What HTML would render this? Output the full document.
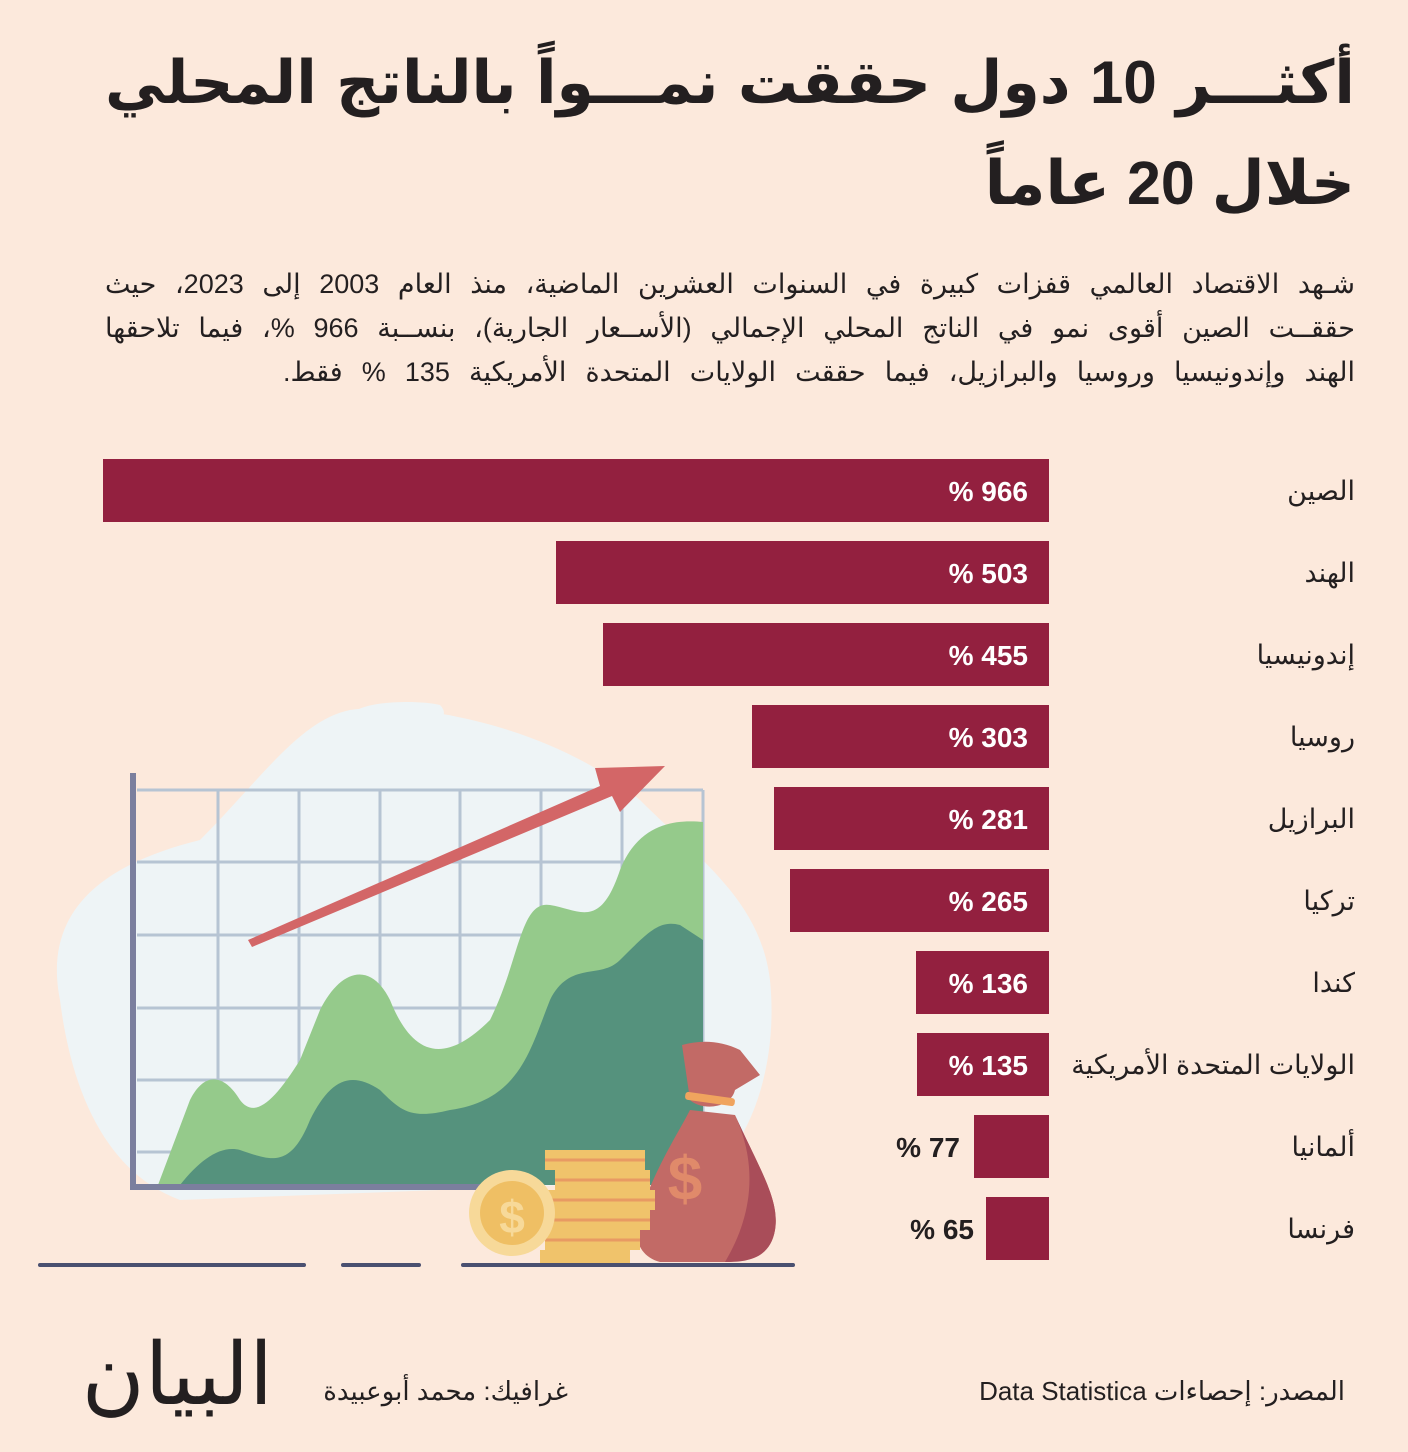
<!DOCTYPE html>
<html><head><meta charset="utf-8"><style>
body{margin:0;width:1408px;height:1452px;background:#fce9dc;position:relative;overflow:hidden;font-family:"Liberation Sans","Noto Sans CJK SC","DejaVu Sans",sans-serif;color:#231f20}
.t{position:absolute;right:53px;direction:rtl;white-space:nowrap}
.j{position:absolute;right:53px;width:1250px;direction:rtl;white-space:nowrap;text-align:justify;text-align-last:justify}
.bar{position:absolute;background:#93203f;height:63px}
.v{position:absolute;direction:ltr;font-weight:bold;font-size:28px;white-space:nowrap}
.lab{position:absolute;right:53px;direction:rtl;font-size:27px;white-space:nowrap}
</style></head><body>
<div class="j" style="top:48px;font-size:60px;font-weight:bold;line-height:70px">أكثـــر 10 دول حققت نمـــواً بالناتج المحلي</div>
<div class="t" style="top:148px;font-size:61px;font-weight:bold;line-height:70px">خلال 20 عاماً</div>
<div class="j" style="top:262px;font-size:27px;line-height:44px">شـهد الاقتصاد العالمي قفزات كبيرة في السنوات العشرين الماضية، منذ العام 2003 إلى 2023، حيث</div>
<div class="j" style="top:306px;font-size:27px;line-height:44px">حققــت الصين أقوى نمو في الناتج المحلي الإجمالي (الأســعار الجارية)، بنســبة 966 %، فيما تلاحقها</div>
<div class="t" style="top:350px;font-size:27px;line-height:44px;width:1072px;text-align:justify;text-align-last:justify">الهند وإندونيسيا وروسيا والبرازيل، فيما حققت الولايات المتحدة الأمريكية 135 % فقط.</div>

<svg style="position:absolute;left:0;top:690px" width="820" height="600" viewBox="0 690 820 600">
<path d="M60 1000 C40 900 120 860 200 840 C260 780 300 720 350 710 C420 700 560 730 640 800 C700 860 760 900 770 980 C780 1080 740 1160 700 1180 L180 1200 C100 1170 70 1080 60 1000Z" fill="#eef4f6"/>
<path d="M352 715 C360 700 420 700 440 705 C450 715 440 725 420 728 L360 735 C350 732 348 722 352 715Z" fill="#eef4f6"/>
<g stroke="#b6c4d3" stroke-width="3" fill="none">
<path d="M137 790H703M137 862H703M137 935H703M137 1008H703M137 1080H703M137 1152H703"/>
<path d="M218 790V1185M299 790V1185M380 790V1185M460 790V1185M541 790V1185M622 790V1185M703 790V1185"/>
</g>
<path d="M158 1185 L190 1100 C205 1070 225 1075 240 1100 C255 1120 275 1100 300 1060 L320 1010 C340 970 370 960 390 1000 C410 1050 440 1070 490 1020 C520 960 520 900 550 905 C580 910 600 930 620 870 C640 820 680 820 703 822 V1185Z" fill="#95ca8b"/>
<path d="M180 1185 C200 1160 220 1145 240 1150 C270 1160 290 1170 310 1120 C330 1080 350 1070 380 1090 C400 1110 410 1120 450 1110 C520 1100 530 1050 550 1000 C570 960 600 980 620 960 C650 930 660 920 680 925 L703 940 V1185Z" fill="#55927d"/>
<path d="M133 773V1187H480" stroke="#7b7f9e" stroke-width="6" fill="none"/>
<path d="M248 940 L600 786 L595 768 L665 766 L620 812 L612 796 L252 947Z" fill="#d36667"/>
<g fill="#4a5070"><rect x="38" y="1263" width="268" height="4" rx="2"/><rect x="341" y="1263" width="80" height="4" rx="2"/><rect x="461" y="1263" width="334" height="4" rx="2"/></g>
<path d="M682 1045 C700 1040 720 1040 740 1050 L760 1075 L735 1090 C730 1110 700 1110 690 1100Z" fill="#c26a66"/>
<path d="M690 1110 L735 1115 C760 1170 780 1200 775 1230 C770 1260 740 1262 720 1262 L660 1262 C635 1255 630 1230 645 1200 C660 1160 680 1130 690 1110Z" fill="#c26a66"/>
<path d="M735 1115 C760 1170 780 1200 775 1230 C770 1260 745 1262 725 1262 C750 1220 760 1170 735 1115Z" fill="#a94d59"/>
<rect x="685" y="1095" width="50" height="8" rx="3" fill="#f0a45e" transform="rotate(8 710 1099)"/>
<text x="685" y="1200" font-size="62" font-weight="bold" fill="#e08a6a" font-family="Liberation Sans" text-anchor="middle">$</text>
<g fill="#f0c36b"><rect x="545" y="1150" width="100" height="20"/><rect x="555" y="1170" width="95" height="20"/><rect x="545" y="1190" width="110" height="20"/><rect x="550" y="1210" width="100" height="20"/><rect x="545" y="1230" width="95" height="20"/><rect x="540" y="1250" width="90" height="13"/></g>
<g stroke="#e89a63" stroke-width="3"><path d="M545 1160H645M555 1180H650M545 1200H655M550 1220H650M545 1240H640"/></g>
<circle cx="512" cy="1213" r="43" fill="#f7d999"/>
<circle cx="512" cy="1213" r="32" fill="#efbf64"/>
<text x="512" y="1233" font-size="46" font-weight="bold" fill="#f7d999" font-family="Liberation Sans" text-anchor="middle">$</text>
</svg>

<div class="bar" style="left:103px;top:459px;width:946px"></div>
<div class="bar" style="left:556px;top:541px;width:493px"></div>
<div class="bar" style="left:603px;top:623px;width:446px"></div>
<div class="bar" style="left:752px;top:705px;width:297px"></div>
<div class="bar" style="left:774px;top:787px;width:275px"></div>
<div class="bar" style="left:790px;top:869px;width:259px"></div>
<div class="bar" style="left:916px;top:951px;width:133px"></div>
<div class="bar" style="left:917px;top:1033px;width:132px"></div>
<div class="bar" style="left:974px;top:1115px;width:75px"></div>
<div class="bar" style="left:986px;top:1197px;width:63px"></div>

<div class="v" style="right:380px;top:476px;color:#fff">% 966</div>
<div class="v" style="right:380px;top:558px;color:#fff">% 503</div>
<div class="v" style="right:380px;top:640px;color:#fff">% 455</div>
<div class="v" style="right:380px;top:722px;color:#fff">% 303</div>
<div class="v" style="right:380px;top:804px;color:#fff">% 281</div>
<div class="v" style="right:380px;top:886px;color:#fff">% 265</div>
<div class="v" style="right:380px;top:968px;color:#fff">% 136</div>
<div class="v" style="right:380px;top:1050px;color:#fff">% 135</div>
<div class="v" style="right:448px;top:1132px">% 77</div>
<div class="v" style="right:434px;top:1214px">% 65</div>

<div class="lab" style="top:476px">الصين</div>
<div class="lab" style="top:558px">الهند</div>
<div class="lab" style="top:640px">إندونيسيا</div>
<div class="lab" style="top:722px">روسيا</div>
<div class="lab" style="top:804px">البرازيل</div>
<div class="lab" style="top:886px">تركيا</div>
<div class="lab" style="top:968px">كندا</div>
<div class="lab" style="top:1050px">الولايات المتحدة الأمريكية</div>
<div class="lab" style="top:1132px">ألمانيا</div>
<div class="lab" style="top:1214px">فرنسا</div>

<div class="t" style="right:63px;top:1376px;font-size:26px">المصدر: إحصاءات Data Statistica</div>
<div class="t" style="right:840px;top:1376px;font-size:26px">غرافيك: محمد أبوعبيدة</div>
<div class="t" style="right:1135px;top:1325px;font-size:86px;font-family:'Liberation Serif','DejaVu Serif',serif">البيان</div>
</body></html>
